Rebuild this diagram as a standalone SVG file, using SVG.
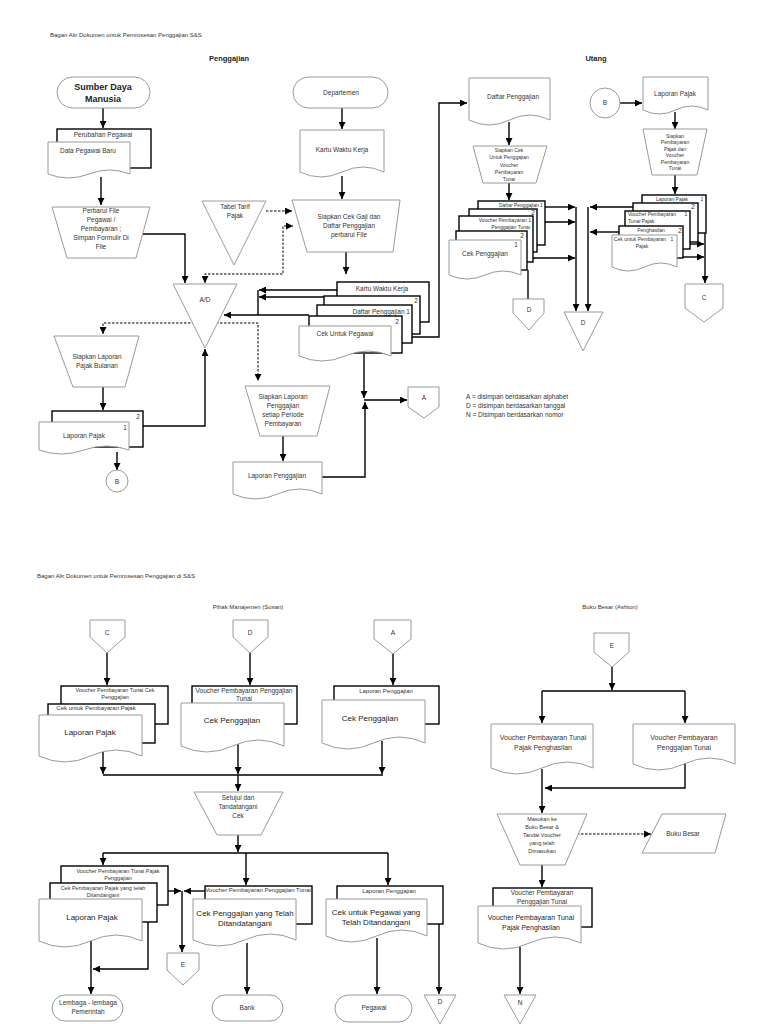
<svg xmlns="http://www.w3.org/2000/svg" width="768" height="1024" viewBox="0 0 768 1024">
<defs>
<marker id="ah" viewBox="0 0 10 10" refX="10" refY="5" markerWidth="7" markerHeight="7" markerUnits="userSpaceOnUse" orient="auto-start-reverse"><path d="M0,0 L10,5 L0,10 z" fill="#000"/></marker>
<style>
.g{fill:#fff;stroke:#9a9a9a;stroke-width:1}
.k{fill:#fff;stroke:#000;stroke-width:1.4}
.c{fill:none;stroke:#000;stroke-width:1.4;marker-end:url(#ah)}
.l{fill:none;stroke:#000;stroke-width:1.4}
.d{fill:none;stroke:#000;stroke-width:1;stroke-dasharray:2.5,1.5;marker-end:url(#ah)}
.dd{fill:none;stroke:#000;stroke-width:1;stroke-dasharray:2.5,1.5;marker-end:url(#ah);marker-start:url(#ah)}
text{font-family:"Liberation Sans",Arial,sans-serif;fill:#333;font-size:6.5px;text-anchor:middle}
.s5{font-size:5px}
.s55{font-size:5.5px}
.s6{font-size:6px}
.s7{font-size:7px}
.s8{font-size:8px;fill:#222}
.st{text-anchor:start}
.en{text-anchor:end}
.b{font-weight:bold;fill:#222}
</style>
</defs>
<rect width="768" height="1024" fill="#fff"/>

<g id="titles">
<text class="st" x="50" y="37" style="font-size:6px">Bagan Alir Dokumen untuk Pemrosesan Penggajian S&amp;S</text>
<text class="b" x="229" y="61" style="font-size:7.5px">Penggajian</text>
<text class="b" x="596" y="61" style="font-size:7.5px">Utang</text>
<text class="st" x="37" y="578" style="font-size:6px">Bagan Alir Dokumen untuk Pemrosesan Penggajian di S&amp;S</text>
<text x="248" y="609" style="font-size:6px">Pihak Manajemen (Susan)</text>
<text x="610" y="609" style="font-size:6px">Buku Besar (Ashton)</text>
</g>

<g id="legend">
<text class="st" x="466" y="399">A = disimpan berdasarkan alphabet</text>
<text class="st" x="466" y="408">D = disimpan berdasarkan tanggal</text>
<text class="st" x="466" y="417">N = Disimpan berdasarkan nomor</text>
</g>

<g id="connectors">
<line class="c" x1="103" y1="108" x2="103" y2="128"/>
<line class="c" x1="101" y1="177" x2="101" y2="205"/>
<polyline class="c" points="143,234 185,234 185,283"/>
<polyline class="dd" points="205,283 205,274 283,274 283,226 293,226"/>
<line class="d" x1="266" y1="211" x2="292" y2="211"/>
<line class="c" x1="342" y1="108" x2="342" y2="129"/>
<line class="c" x1="342" y1="176" x2="342" y2="199"/>
<line class="c" x1="346" y1="252" x2="346" y2="274"/>
<polyline class="c" points="412,337 439,337 439,103 467,103"/>
<line class="c" x1="337" y1="290" x2="259" y2="290"/>
<line class="c" x1="324" y1="297" x2="259" y2="297"/>
<line class="l" x1="258" y1="290" x2="258" y2="315"/>
<line class="c" x1="309" y1="315" x2="224" y2="315"/>
<polyline class="dd" points="103,334 103,323 258,323 258,381"/>
<line class="c" x1="103" y1="387" x2="103" y2="410"/>
<polyline class="c" points="143,426 205,426 205,349"/>
<line class="c" x1="117" y1="452" x2="117" y2="470"/>
<line class="c" x1="283" y1="436" x2="283" y2="461"/>
<polyline class="c" points="322,477 365,477 365,402"/>
<line class="c" x1="364" y1="354" x2="364" y2="398"/>
<line class="c" x1="364" y1="400" x2="407" y2="400"/>

<line class="c" x1="509" y1="122" x2="509" y2="145"/>
<line class="c" x1="509" y1="183" x2="509" y2="200"/>
<line class="c" x1="545" y1="207" x2="575" y2="207"/>
<line class="c" x1="537" y1="222" x2="575" y2="222"/>
<line class="c" x1="527" y1="258" x2="575" y2="258"/>
<line class="c" x1="576" y1="207" x2="576" y2="311"/>
<line class="l" x1="528" y1="270" x2="528" y2="299"/>
<line class="c" x1="620" y1="103" x2="642" y2="103"/>
<line class="c" x1="675" y1="112" x2="675" y2="129"/>
<line class="c" x1="675" y1="175" x2="675" y2="194"/>
<line class="c" x1="633" y1="207" x2="590" y2="207"/>
<line class="c" x1="619" y1="232" x2="590" y2="232"/>
<line class="c" x1="588" y1="207" x2="588" y2="311"/>
<line class="c" x1="690" y1="244" x2="704" y2="244"/>
<line class="c" x1="683" y1="257" x2="704" y2="257"/>
<line class="c" x1="705" y1="233" x2="705" y2="283"/>

<line class="c" x1="107" y1="653" x2="107" y2="685"/>
<line class="c" x1="250" y1="653" x2="250" y2="685"/>
<line class="c" x1="393" y1="654" x2="393" y2="685"/>
<line class="c" x1="103" y1="752" x2="103" y2="774"/>
<line class="c" x1="238" y1="744" x2="238" y2="774"/>
<line class="c" x1="382" y1="741" x2="382" y2="774"/>
<line class="l" x1="103" y1="775" x2="383" y2="775"/>
<line class="c" x1="238" y1="775" x2="238" y2="791"/>
<line class="c" x1="238" y1="835" x2="238" y2="852"/>
<line class="l" x1="103" y1="853" x2="388" y2="853"/>
<line class="c" x1="103" y1="853" x2="103" y2="865"/>
<line class="c" x1="246" y1="853" x2="246" y2="885"/>
<line class="c" x1="388" y1="853" x2="388" y2="885"/>
<line class="c" x1="168" y1="891" x2="181" y2="891"/>
<line class="c" x1="205" y1="891" x2="184" y2="891"/>
<line class="c" x1="182" y1="891" x2="182" y2="952"/>
<polyline class="c" points="148,922 148,969 93,969"/>
<line class="c" x1="91" y1="941" x2="91" y2="994"/>
<line class="c" x1="247" y1="943" x2="247" y2="994"/>
<line class="c" x1="377" y1="938" x2="377" y2="994"/>
<line class="c" x1="439" y1="924" x2="439" y2="994"/>

<line class="c" x1="612" y1="667" x2="612" y2="690"/>
<line class="l" x1="542" y1="691" x2="685" y2="691"/>
<line class="c" x1="542" y1="691" x2="542" y2="723"/>
<line class="c" x1="685" y1="691" x2="685" y2="723"/>
<polyline class="c" points="685,764 685,788 545,788"/>
<line class="c" x1="542" y1="769" x2="542" y2="813"/>
<line class="d" x1="577" y1="834" x2="651" y2="834"/>
<line class="c" x1="542" y1="865" x2="542" y2="887"/>
<line class="c" x1="520" y1="946" x2="520" y2="994"/>
</g>

<g id="sdm">
<rect class="g" x="57" y="77" width="93" height="31" rx="15.5"/>
<text class="b" x="103" y="90" style="font-size:9px">Sumber Daya</text>
<text class="b" x="103" y="102" style="font-size:9px">Manusia</text>
</g>
<g id="data-pegawai">
<rect class="k" x="57" y="129" width="94" height="39"/>
<text x="103" y="137">Perubahan Pegawai</text>
<path class="g" d="M48,142 H130 V174 Q109.5,166 89,174 T48,174 Z"/>
<text x="88" y="153">Data Pegawai Baru</text>
</g>
<g id="perbarui">
<polygon class="g" points="52,207 150,207 136,258 67,258"/>
<text x="101" y="213">Perbarui File</text>
<text x="101" y="222">Pegawai /</text>
<text x="101" y="231">Pembayaran ;</text>
<text x="101" y="240">Simpan Formulir Di</text>
<text x="101" y="249">File</text>
</g>
<g id="tabel-tarif">
<polygon class="g" points="202,201 266,201 234,265"/>
<text x="235" y="209">Tabel Tarif</text>
<text x="235" y="218">Pajak</text>
</g>
<g id="ad">
<polygon class="g" points="173,284 237,284 205,348"/>
<text x="205" y="302">A/D</text>
</g>
<g id="departemen">
<rect class="g" x="293" y="77" width="95" height="31" rx="15.5"/>
<text x="341" y="95">Departemen</text>
</g>
<g id="kartu-waktu">
<path class="g" d="M300,130 H384 V172 Q363,162 342,172 T300,172 Z"/>
<text x="342" y="152">Kartu Waktu Kerja</text>
</g>
<g id="siapkan-cek">
<polygon class="g" points="292,200 400,200 393,252 307,252"/>
<text x="349" y="219">Siapkan Cek Gaji dan</text>
<text x="349" y="228">Daftar Penggajian</text>
<text x="349" y="237">perbarui File</text>
</g>
<g id="stack-penggajian">
<rect class="k" x="337" y="282" width="92" height="40"/>
<text x="382" y="291">Kartu Waktu Kerja</text>
<rect class="k" x="324" y="296" width="96" height="38"/>
<text x="416" y="303">2</text>
<rect class="k" x="317" y="305" width="95" height="38"/>
<text class="en" x="410" y="314">Daftar Penggajian 1</text>
<rect class="k" x="309" y="316" width="93" height="37"/>
<text x="397" y="324">2</text>
<path class="g" d="M299,326 H391 V356 Q368,346 345,356 T299,356 Z"/>
<text x="345" y="336">Cek Untuk Pegawai</text>
</g>
<g id="lap-pajak-bulanan">
<polygon class="g" points="54,336 139,336 125,387 73,387"/>
<text x="97" y="359">Siapkan Laporan</text>
<text x="97" y="368">Pajak Bulanan</text>
</g>
<g id="laporan-pajak-1">
<rect class="k" x="52" y="411" width="91" height="36"/>
<text x="138" y="419">2</text>
<path class="g" d="M39,422 H129 V450 Q106.5,442 84,450 T39,450 Z"/>
<text x="125" y="430">1</text>
<text x="84" y="438">Laporan Pajak</text>
</g>
<g id="b-1">
<circle class="g" cx="117" cy="481" r="11"/>
<text x="117" y="484">B</text>
</g>
<g id="siapkan-lap-penggajian">
<polygon class="g" points="245,386 330,386 317,436 260,436"/>
<text x="283" y="399">Siapkan Laporan</text>
<text x="283" y="408">Penggajian</text>
<text x="283" y="417">setiap Periode</text>
<text x="283" y="426">Pembayaran</text>
</g>
<g id="laporan-penggajian">
<path class="g" d="M233,462 H322 V494 Q299.75,484 277.5,494 T233,494 Z"/>
<text x="277" y="478">Laporan Penggajian</text>
</g>
<g id="a-1">
<polygon class="g" points="408,387 439,387 439,407 424,418 408,407"/>
<text x="424" y="400">A</text>
</g>

<g id="daftar-penggajian">
<path class="g" d="M469,78 H550 V120 Q529.75,110 509.5,120 T469,120 Z"/>
<text x="513" y="99">Daftar Penggajian</text>
</g>
<g id="siapkan-cek-utang">
<polygon class="g" points="473,146 547,146 536,183 483,183"/>
<text class="s5" x="509" y="152">Siapkan Cek</text>
<text class="s5" x="509" y="159">Untuk Penggajian</text>
<text class="s5" x="509" y="167">Voucher</text>
<text class="s5" x="509" y="174">Pembayaran</text>
<text class="s5" x="509" y="181">Tunai</text>
</g>
<g id="stack-utang-1">
<rect class="k" x="478" y="201" width="67" height="44"/>
<text class="s5 en" x="539" y="207">Daftar Penggajian</text>
<text class="s5 st" x="540" y="207">1</text>
<rect class="k" x="469" y="209" width="68" height="43"/>
<text x="533" y="215">2</text>
<rect class="k" x="459" y="216" width="74" height="46"/>
<text class="s5 en" x="531" y="222">Voucher Pembayaran 1</text>
<text class="s5 en" x="530" y="229">Penggajian Tunai</text>
<rect class="k" x="456" y="231" width="71" height="39"/>
<text x="522" y="238">2</text>
<path class="g" d="M449,240 H521 V275 Q503,267 485,275 T449,275 Z"/>
<text x="516" y="247">1</text>
<text x="485" y="256">Cek Penggajian</text>
</g>
<g id="d-1">
<polygon class="g" points="513,299 544,299 544,313 529,330 513,313"/>
<text x="529" y="312">D</text>
</g>
<g id="d-2">
<polygon class="g" points="564,312 603,312 583,351"/>
<text x="583" y="325">D</text>
</g>
<g id="b-2">
<circle class="g" cx="605" cy="103" r="15"/>
<text x="605" y="105">B</text>
</g>
<g id="laporan-pajak-utang">
<path class="g" d="M643,77 H708 V110 Q691.75,102 675.5,110 T643,110 Z"/>
<text x="675" y="96">Laporan Pajak</text>
</g>
<g id="siapkan-pembayaran">
<polygon class="g" points="643,129 707,129 697,175 652,175"/>
<text class="s5" x="675" y="137.5">Siapkan</text>
<text class="s5" x="675" y="144">Pembayaran</text>
<text class="s5" x="675" y="150.5">Pajak dan</text>
<text class="s5" x="675" y="157">Voucher</text>
<text class="s5" x="675" y="163.5">Pembayaran</text>
<text class="s5" x="675" y="170">Tunai</text>
</g>
<g id="stack-utang-2">
<rect class="k" x="642" y="195" width="64" height="38"/>
<text class="s5" x="672" y="200.5">Laporan Pajak</text>
<text class="s5" x="702" y="200.5">1</text>
<rect class="k" x="633" y="203" width="65" height="39"/>
<text x="693" y="209">2</text>
<rect class="k" x="625" y="211" width="65" height="38"/>
<text class="s5 st" x="628" y="216">Voucher Pembayaran</text>
<text class="s5 st" x="628" y="223">Tunai Pajak</text>
<text class="s5" x="686" y="216">1</text>
<rect class="k" x="619" y="226" width="64" height="32"/>
<text class="s5" x="651" y="232">Penghasilan</text>
<text x="680" y="233">2</text>
<path class="g" d="M612,235 H677 V267 Q660.75,259 644.5,267 T612,267 Z"/>
<text class="s5" x="640" y="241">Cek untuk Pembayaran</text>
<text class="s5" x="672" y="241">1</text>
<text class="s5" x="642" y="248">Pajak</text>
</g>
<g id="c-1">
<polygon class="g" points="685,284 723,284 723,308 704,322 685,308"/>
<text x="704" y="300">C</text>
</g>

<g id="c-2">
<polygon class="g" points="90,620 125,620 125,637 107,653 90,637"/>
<text x="107" y="635">C</text>
</g>
<g id="stack-c">
<rect class="k" x="61" y="686" width="107" height="38"/>
<text class="s55" x="115" y="692">Voucher Pembayaran Tunai Cek</text>
<text class="s55" x="115" y="699">Penggajian</text>
<rect class="k" x="48" y="704" width="107" height="39"/>
<text class="s6" x="96" y="710">Cek untuk Pembayaran Pajak</text>
<path class="g" d="M39,715 H142 V756 Q116.25,744 90.5,756 T39,756 Z"/>
<text class="s8" x="90" y="735">Laporan Pajak</text>
</g>
<g id="d-3">
<polygon class="g" points="233,620 268,620 268,637 250,653 233,637"/>
<text x="250" y="635">D</text>
</g>
<g id="stack-d">
<rect class="k" x="192" y="686" width="105" height="38"/>
<text x="244" y="693">Voucher Pembayaran Penggajian</text>
<text x="244" y="701">Tunai</text>
<path class="g" d="M181,703 H284 V746 Q258.25,734 232.5,746 T181,746 Z"/>
<text class="s8" x="232" y="723">Cek Penggajian</text>
</g>
<g id="a-2">
<polygon class="g" points="374,620 411,620 411,639 393,654 374,639"/>
<text x="393" y="635">A</text>
</g>
<g id="stack-a">
<rect class="k" x="334" y="686" width="105" height="38"/>
<text class="s6" x="386" y="693">Laporan Penggajian</text>
<path class="g" d="M322,700 H425 V743 Q399.25,731 373.5,743 T322,743 Z"/>
<text class="s8" x="370" y="721">Cek Penggajian</text>
</g>
<g id="setujui">
<polygon class="g" points="194,792 283,792 261,835 217,835"/>
<text x="238" y="800">Setujui dan</text>
<text x="238" y="809">Tandatangani</text>
<text x="238" y="818">Cek</text>
</g>
<g id="stack-pajak-ttd">
<rect class="k" x="61" y="866" width="107" height="39"/>
<text class="s55" x="118" y="873">Voucher Pembayaran Tunai Pajak</text>
<text class="s55" x="118" y="880">Penggajian</text>
<rect class="k" x="50" y="883" width="107" height="39"/>
<text class="s55" x="103" y="890">Cek Pembayaran Pajak yang telah</text>
<text class="s55" x="103" y="897">Ditandangani</text>
<path class="g" d="M39,899 H142 V941 Q116.25,929 90.5,941 T39,941 Z"/>
<text class="s8" x="92" y="920">Laporan Pajak</text>
</g>
<g id="e-1">
<polygon class="g" points="167,953 199,953 199,970 183,985 167,970"/>
<text x="183" y="967">E</text>
</g>
<g id="lembaga">
<rect class="g" x="52" y="995" width="71" height="26" rx="13"/>
<text x="88" y="1005">Lembaga - lembaga</text>
<text x="88" y="1014">Pemerintah</text>
</g>
<g id="stack-cek-ttd">
<rect class="k" x="205" y="886" width="107" height="38"/>
<text class="s6" x="258" y="892">Voucher Pembayaran Penggajian Tunai</text>
<path class="g" d="M193,899 H296 V940 Q270.25,928 244.5,940 T193,940 Z"/>
<text class="s8" x="245" y="916">Cek Penggajian yang Telah</text>
<text class="s8" x="245" y="926">Ditandatangani</text>
</g>
<g id="bank">
<rect class="g" x="212" y="995" width="71" height="26" rx="13"/>
<text x="247" y="1010">Bank</text>
</g>
<g id="stack-pegawai-ttd">
<rect class="k" x="337" y="886" width="106" height="38"/>
<text class="s6" x="389" y="893">Laporan Penggajian</text>
<path class="g" d="M326,899 H427 V936 Q401.75,924 376.5,936 T326,936 Z"/>
<text class="s8" x="376" y="915">Cek untuk Pegawai yang</text>
<text class="s8" x="376" y="925">Telah Ditandangani</text>
</g>
<g id="pegawai">
<rect class="g" x="335" y="995" width="77" height="27" rx="13.5"/>
<text x="374" y="1010">Pegawai</text>
</g>
<g id="d-4">
<polygon class="g" points="424,995 456,995 440,1024"/>
<text x="440" y="1004">D</text>
</g>

<g id="e-2">
<polygon class="g" points="594,633 629,633 629,652 612,667 594,652"/>
<text x="612" y="648">E</text>
</g>
<g id="voucher-pajak">
<path class="g" d="M491,724 H593 V768 Q567.5,756 542,768 T491,768 Z"/>
<text class="s7" x="543" y="740">Voucher Pembayaran Tunai</text>
<text class="s7" x="543" y="750">Pajak Penghasilan</text>
</g>
<g id="voucher-penggajian">
<path class="g" d="M633,724 H735 V764 Q709.5,752 684,764 T633,764 Z"/>
<text class="s7" x="684" y="740">Voucher Pembayaran</text>
<text class="s7" x="684" y="750">Penggajian Tunai</text>
</g>
<g id="masukan">
<polygon class="g" points="497,814 587,814 565,865 520,865"/>
<text class="s55" x="542" y="821">Masukan ke</text>
<text class="s55" x="542" y="829">Buku Besar &amp;</text>
<text class="s55" x="542" y="837">Tandai Voucher</text>
<text class="s55" x="542" y="845">yang telah</text>
<text class="s55" x="542" y="853">Dimasukan</text>
</g>
<g id="buku-besar">
<polygon class="g" points="662,814 726,814 715,853 642,853"/>
<text x="683" y="836">Buku Besar</text>
</g>
<g id="stack-voucher">
<rect class="k" x="493" y="888" width="99" height="39"/>
<text x="542" y="895">Voucher Pembayaran</text>
<text x="542" y="904">Penggajian Tunai</text>
<path class="g" d="M478,906 H581 V943 Q555.25,931 529.5,943 T478,943 Z"/>
<text class="s7" x="531" y="920" style="fill:#222">Voucher Pembayaran Tunai</text>
<text class="s7" x="531" y="930" style="fill:#222">Pajak Penghasilan</text>
</g>
<g id="n">
<polygon class="g" points="504,995 536,995 520,1024"/>
<text x="520" y="1005">N</text>
</g>
</svg>
